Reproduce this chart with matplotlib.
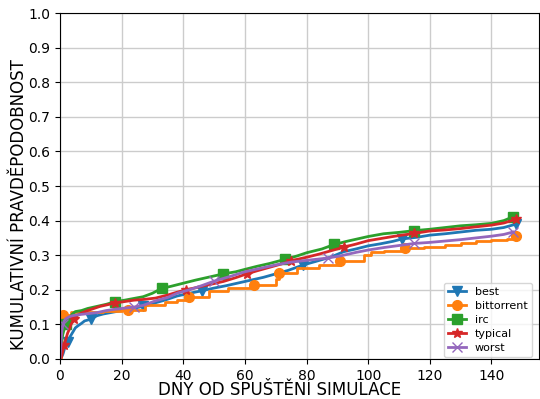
import matplotlib
matplotlib.use("Agg")
import matplotlib.pyplot as plt
import numpy as np

# days / cumulative probability
best_days = [0, 0.5, 1, 1.5, 2, 2.5, 3, 4, 5, 6, 7, 8, 10, 12, 14, 17, 20, 23, 27, 30,
             34, 38, 42, 46, 50, 54, 58, 62, 66, 70, 74, 79, 83, 88, 92, 96, 100, 104,
             108, 111, 116, 120, 125, 130, 135, 140, 144, 148]
best_vals = [0, 0.005, 0.015, 0.03, 0.04, 0.05, 0.06, 0.075, 0.09, 0.097, 0.103, 0.11,
             0.115, 0.125, 0.13, 0.135, 0.14, 0.145, 0.152, 0.16, 0.17, 0.182, 0.19,
             0.197, 0.205, 0.212, 0.22, 0.228, 0.236, 0.246, 0.256, 0.272, 0.282, 0.295,
             0.31, 0.318, 0.327, 0.333, 0.34, 0.347, 0.352, 0.358, 0.362, 0.367, 0.372,
             0.375, 0.38, 0.39]
best_marks = [2.5, 10, 27, 46, 79, 111, 148]

bt_days = [0, 0.3, 1, 3.5, 8, 14, 20, 22, 27.5, 34, 38, 42, 48.5, 54.5, 63, 70, 71, 77,
           84, 91, 98.5, 101, 105, 112, 118, 125, 130, 135, 140, 145, 148]
bt_vals = [0, 0.125, 0.128, 0.135, 0.137, 0.14, 0.141, 0.142, 0.156, 0.165, 0.17, 0.178,
           0.197, 0.205, 0.214, 0.232, 0.248, 0.262, 0.272, 0.284, 0.3, 0.31, 0.312,
           0.32, 0.325, 0.33, 0.335, 0.34, 0.344, 0.348, 0.355]
bt_marks = [1, 22, 42, 63, 71, 91, 112, 148]

irc_days = [0, 0.3, 0.6, 0.9, 1.5, 2, 2.5, 3, 4, 5, 7, 9, 12, 15, 18, 21, 24, 27, 30, 33,
            36, 40, 44, 48, 53, 57, 60, 64, 68, 73, 77, 80, 85, 89, 93, 97, 100, 105,
            110, 115, 120, 125, 130, 135, 140, 144, 147]
irc_vals = [0, 0.02, 0.05, 0.07, 0.09, 0.1, 0.11, 0.115, 0.13, 0.137, 0.14, 0.146, 0.152,
            0.158, 0.166, 0.17, 0.175, 0.18, 0.19, 0.204, 0.21, 0.219, 0.228, 0.236,
            0.246, 0.252, 0.259, 0.268, 0.276, 0.288, 0.298, 0.307, 0.318, 0.331, 0.34,
            0.348, 0.354, 0.362, 0.366, 0.371, 0.375, 0.38, 0.385, 0.388, 0.392, 0.4,
            0.411]
irc_marks = [2, 18, 33, 53, 73, 89, 115, 147]

typ_days = [0, 0.5, 1, 1.4, 2, 2.5, 3, 3.6, 4.6, 5.5, 6.8, 9, 11, 13, 15, 18, 21, 24, 27,
            31, 35, 38, 41, 45, 49, 53, 57, 60.6, 64, 68, 72, 75, 80, 84, 88, 92, 96,
            100, 104, 108, 111, 115, 120, 125, 130, 135, 140, 144, 148]
typ_vals = [0, 0.005, 0.025, 0.04, 0.06, 0.075, 0.085, 0.1, 0.115, 0.125, 0.132, 0.14,
            0.146, 0.152, 0.156, 0.162, 0.166, 0.17, 0.172, 0.176, 0.185, 0.193, 0.2,
            0.208, 0.216, 0.224, 0.235, 0.246, 0.255, 0.265, 0.275, 0.284, 0.294, 0.303,
            0.313, 0.323, 0.332, 0.342, 0.348, 0.354, 0.358, 0.363, 0.37, 0.373, 0.377,
            0.382, 0.387, 0.393, 0.404]
typ_marks = [1.4, 4.6, 18, 41, 60.6, 75, 92, 115, 148]

worst_days = [0, 0.3, 0.6, 1, 1.4, 2, 3, 4, 6, 9, 12, 15, 18, 21, 24, 27, 31, 35, 38, 42,
              46, 50, 55, 60, 65, 70, 75, 80, 87, 91, 96, 100, 105, 110, 115, 120, 125,
              130, 135, 140, 144, 147]
worst_vals = [0, 0.04, 0.08, 0.1, 0.11, 0.117, 0.122, 0.125, 0.128, 0.131, 0.134, 0.14,
              0.144, 0.147, 0.15, 0.155, 0.168, 0.178, 0.19, 0.2, 0.212, 0.225, 0.238,
              0.252, 0.262, 0.272, 0.28, 0.285, 0.292, 0.298, 0.308, 0.315, 0.322,
              0.328, 0.334, 0.337, 0.341, 0.345, 0.35, 0.355, 0.36, 0.367]
worst_marks = [1, 24, 50, 87, 115, 147]

series = [
    ('best', best_days, best_vals, best_marks, 'v', 'tab:blue', 'default'),
    ('bittorrent', bt_days, bt_vals, bt_marks, 'o', 'tab:orange', 'steps-post'),
    ('irc', irc_days, irc_vals, irc_marks, 's', 'tab:green', 'default'),
    ('typical', typ_days, typ_vals, typ_marks, '*', 'tab:red', 'default'),
    ('worst', worst_days, worst_vals, worst_marks, 'x', 'tab:purple', 'default'),
]

fig = plt.figure(figsize=(5.4, 3.99), dpi=100)
ax = fig.add_axes([0.111, 0.1003, 0.887, 0.867])
for name, days, vals, marks, mk, col, ds in series:
    days = np.array(days)
    idx = [int(np.argmin(np.abs(days - m))) for m in marks]
    ax.plot(days, vals, drawstyle=ds, color=col, lw=2, marker=mk,
            markersize=7, markevery=idx, label=name)

ax.set_ylim(0, 1)
ax.set_xlim(left=0)
ax.set_yticks(np.arange(0, 1.01, 0.1))
ax.grid(True, color='#cccccc', lw=1)
ax.set_axisbelow(True)
ax.set_xlabel('DNY OD SPUŠTĚNÍ SIMULACE', fontsize=12)
ax.set_ylabel('KUMULATIVNÍ PRAVDĚPODOBNOST', fontsize=12)
ax.xaxis.set_label_coords(0.459, -0.064)
ax.yaxis.set_label_coords(-0.066, 0.445)
ax.legend(loc='lower right', fontsize=8, handlelength=1.6, labelspacing=0.35,
          bbox_to_anchor=(532 / 540, 42 / 399), bbox_transform=fig.transFigure,
          borderaxespad=0)

fig.savefig('out.png', dpi=100)
